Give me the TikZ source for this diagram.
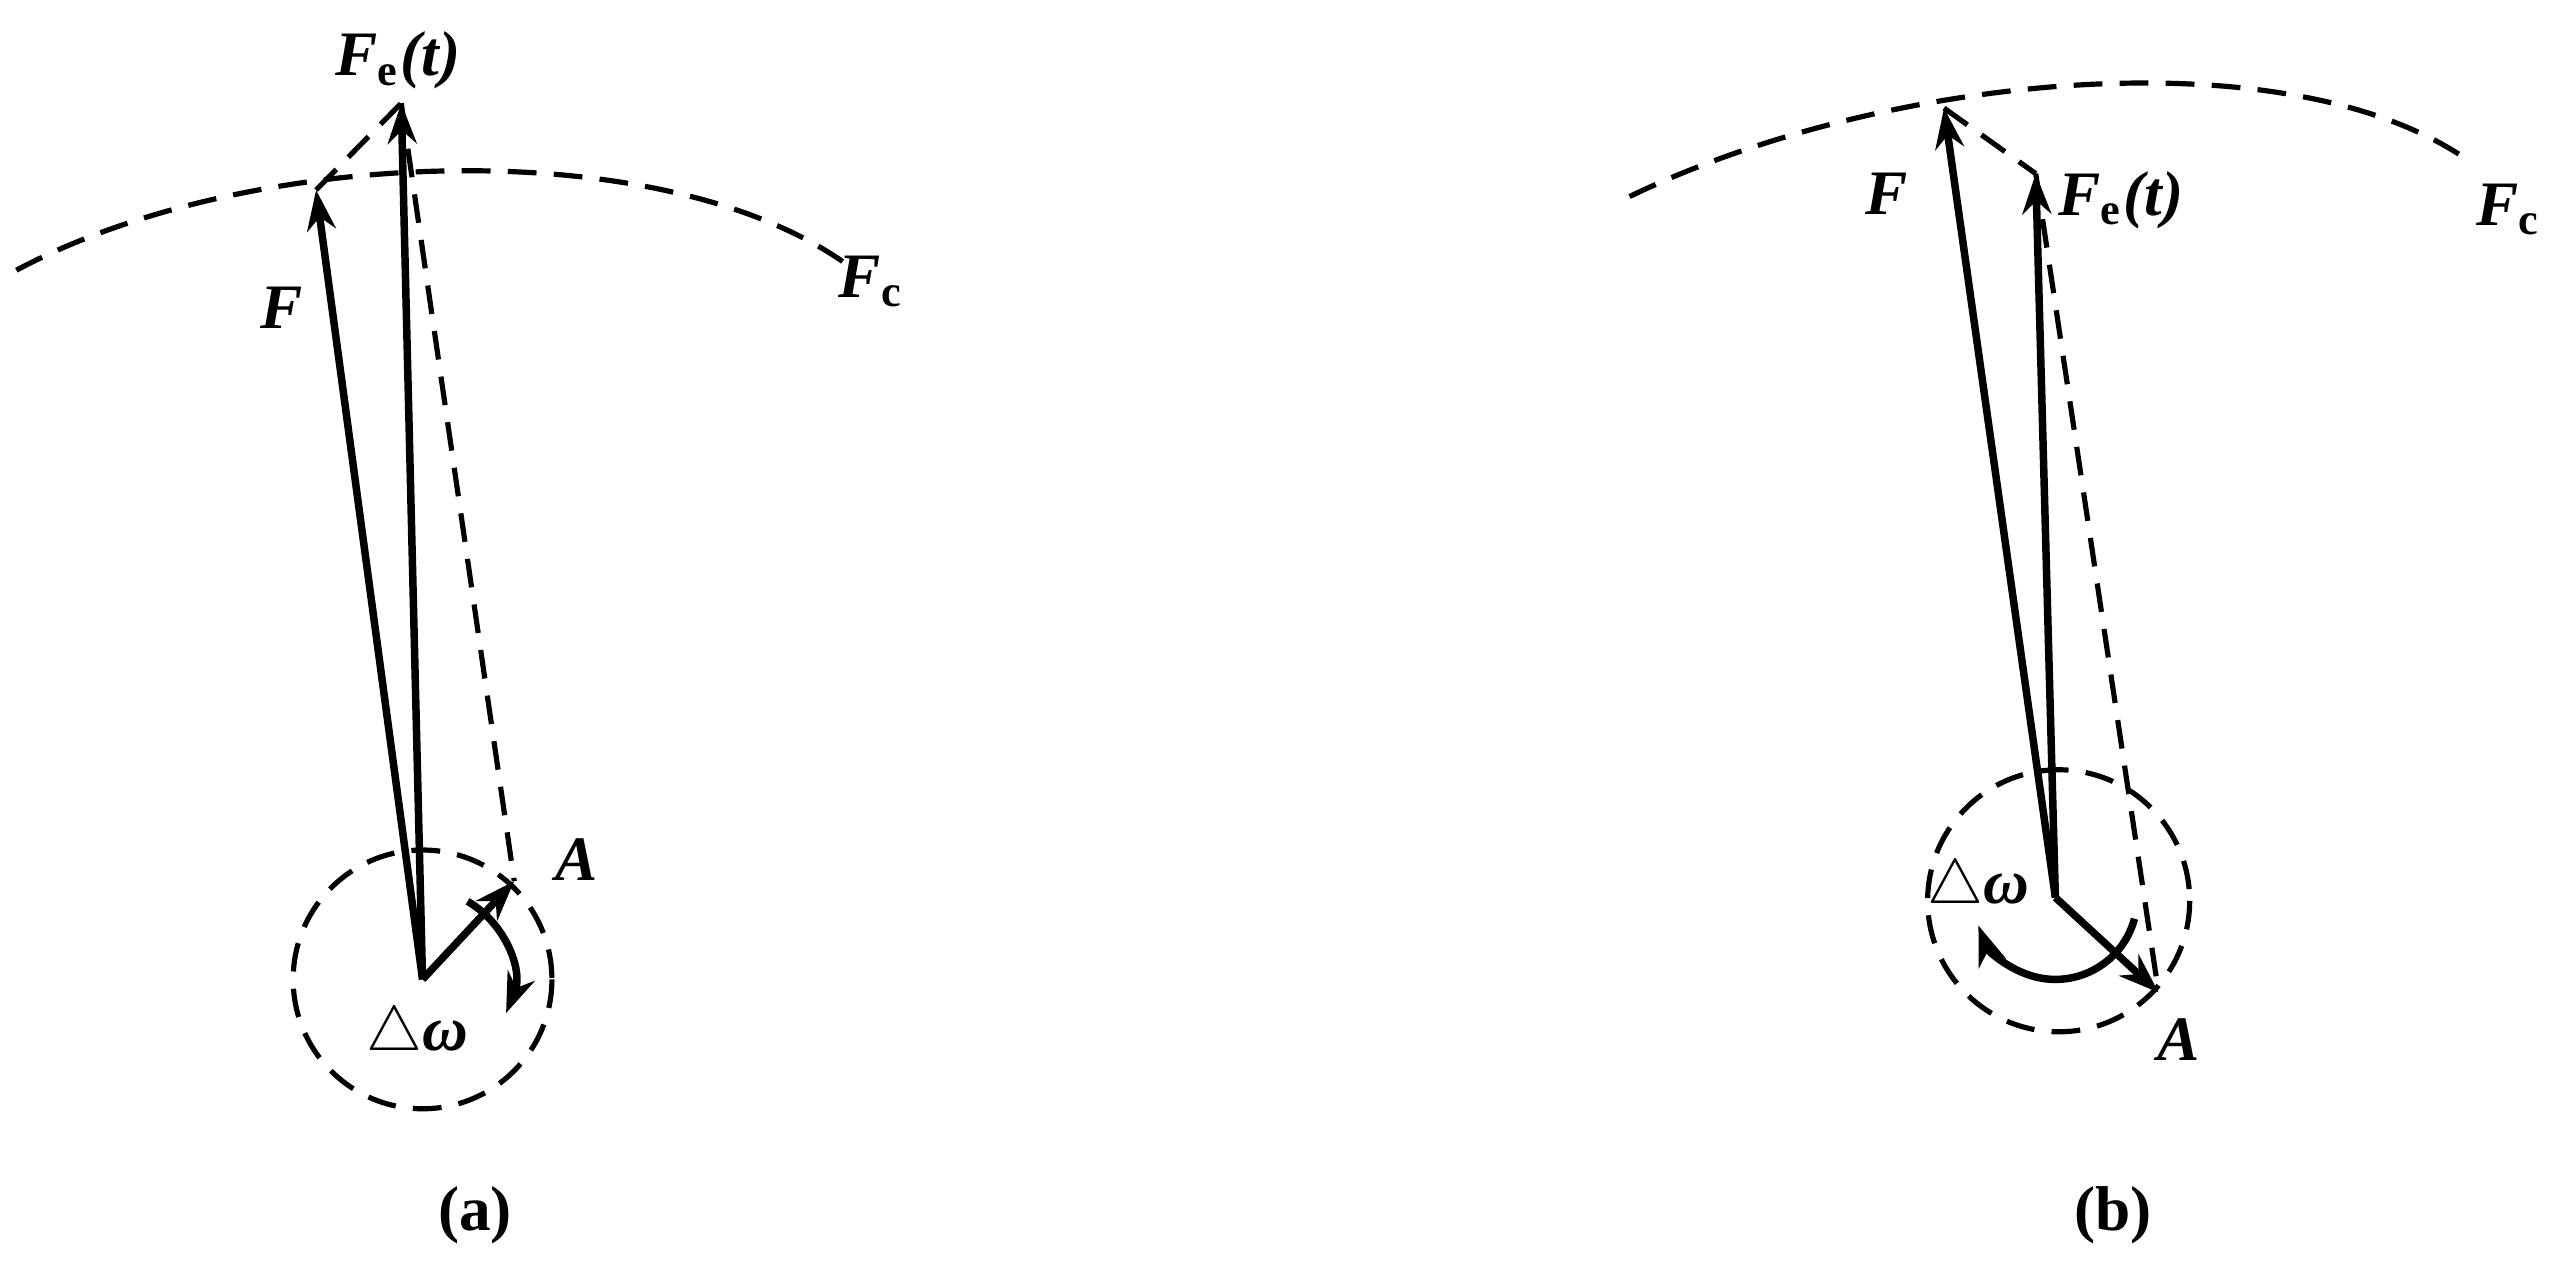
\documentclass[tikz,border=0pt]{standalone}
\usepackage{fontspec}
\setmainfont{Liberation Serif}
\usetikzlibrary{arrows.meta}
\begin{document}
\begin{tikzpicture}[x=0.1mm,y=-0.1mm,
  vec/.style={line width=1.3pt,-{Stealth[length=7pt,width=5pt]}},
  dsh/.style={line width=0.9pt,dash pattern=on 5pt off 3pt},
  lbl/.style={font=\fontsize{11}{13}\selectfont\bfseries\itshape},
  captext/.style={font=\fontsize{11}{13}\selectfont\bfseries}]
\useasboundingbox (0,0) rectangle (1568,772);
% panel a
\coordinate (Oa) at (258,598);
\coordinate (Fa) at (193,116);
\coordinate (Ea) at (245,63);
\coordinate (Aa) at (314,538);
\draw[dsh] (Oa) circle (79);
\draw[dsh] (10,165) .. controls (150,90) and (400,80) .. (515,160);
\draw[dsh] (Fa) -- (Ea);
\draw[dsh] (Ea) -- (Aa);
\draw[vec] (Oa) -- (Fa);
\draw[vec] (Oa) -- (Ea);
\draw[vec] (Oa) -- (Aa);
\draw[line width=1.3pt,-{Stealth[length=7pt,width=5pt]}] ([shift={(-60:55)}]Oa) arc[start angle=-60,end angle=22,radius=55];
\node[lbl] (fa) at (172,188) {F};
\node[lbl] (ea) at (243,37) {F\textsubscript{\upshape e}(t)};
\node[lbl] (aa) at (352,525) {A};
\node[lbl] (ca) at (532,172) {F\textsubscript{\upshape c}};
\node[lbl] (wa) at (255,632) {\(\triangle\)ω};
\node[captext] (la) at (290,742) {(a)};
% panel b
\coordinate (Ob) at (1255,548);
\coordinate (Fb) at (1187,66);
\coordinate (Eb) at (1243,106);
\coordinate (Ab) at (1318,606);
\draw[dsh] (1257,550) circle (80);
\draw[dsh] (995,120) .. controls (1150,45) and (1400,20) .. (1510,100);
\draw[dsh] (Fb) -- (Eb);
\draw[dsh] (Eb) -- (Ab);
\draw[vec] (Ob) -- (Fb);
\draw[vec] (Ob) -- (Eb);
\draw[vec] (Ob) -- (Ab);
\draw[line width=1.3pt,-{Stealth[length=7pt,width=5pt]}] ([shift={(15:50)}]Ob) arc[start angle=15,end angle=160,radius=50];
\node[lbl] (fb) at (1152,118) {F};
\node[lbl] (eb) at (1295,122) {F\textsubscript{\upshape e}(t)};
\node[lbl] (ab) at (1330,635) {A};
\node[lbl] (cb) at (1532,128) {F\textsubscript{\upshape c}};
\node[lbl] (wb) at (1208,542) {\(\triangle\)ω};
\node[captext] (lb) at (1290,742) {(b)};
\end{tikzpicture}
\end{document}
